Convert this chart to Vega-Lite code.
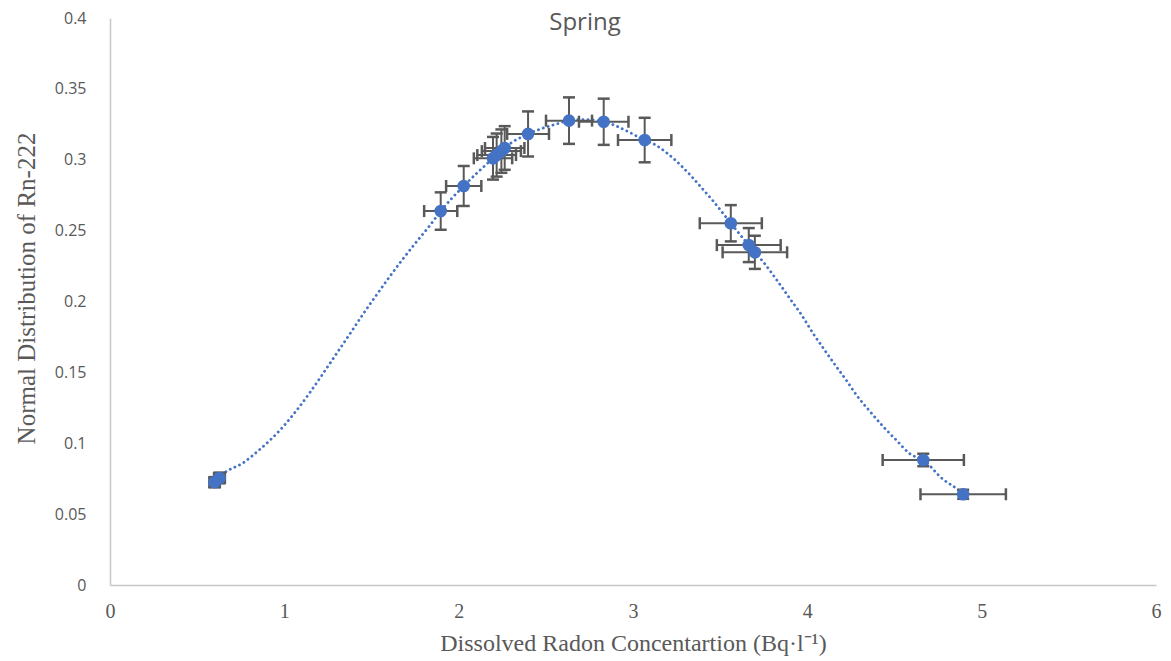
{
  "$schema": "https://vega.github.io/schema/vega-lite/v6.json",
  "width": 1046,
  "height": 567,
  "autosize": {"type": "none"},
  "padding": {"left": 110, "top": 18, "right": 15, "bottom": 76},
  "background": "white",
  "title": {
    "text": "Spring",
    "anchor": "middle",
    "frame": "group",
    "dx": -48,
    "offset": -49,
    "baseline": "bottom",
    "font": "Open Sans",
    "fontSize": 24,
    "fontWeight": "normal",
    "color": "#595959"
  },
  "config": {
    "view": {"stroke": null},
    "axis": {"grid": false, "ticks": false, "domainColor": "#c8c8c8", "domainWidth": 1.5}
  },
  "datasets": {
    "pts": [
      {"x": 0.600, "y": 0.0725, "xlo": 0.570, "xhi": 0.630, "ylo": 0.0689, "yhi": 0.0761},
      {"x": 0.628, "y": 0.0755, "xlo": 0.597, "xhi": 0.659, "ylo": 0.0717, "yhi": 0.0793},
      {"x": 1.897, "y": 0.2638, "xlo": 1.802, "xhi": 1.992, "ylo": 0.2506, "yhi": 0.2770},
      {"x": 2.029, "y": 0.2815, "xlo": 1.928, "xhi": 2.130, "ylo": 0.2674, "yhi": 0.2956},
      {"x": 2.197, "y": 0.3010, "xlo": 2.087, "xhi": 2.307, "ylo": 0.2860, "yhi": 0.3161},
      {"x": 2.218, "y": 0.3033, "xlo": 2.107, "xhi": 2.329, "ylo": 0.2881, "yhi": 0.3185},
      {"x": 2.245, "y": 0.3061, "xlo": 2.133, "xhi": 2.357, "ylo": 0.2908, "yhi": 0.3214},
      {"x": 2.264, "y": 0.3083, "xlo": 2.151, "xhi": 2.377, "ylo": 0.2929, "yhi": 0.3237},
      {"x": 2.398, "y": 0.3182, "xlo": 2.278, "xhi": 2.518, "ylo": 0.3023, "yhi": 0.3341},
      {"x": 2.633, "y": 0.3276, "xlo": 2.501, "xhi": 2.765, "ylo": 0.3112, "yhi": 0.3440},
      {"x": 2.832, "y": 0.3268, "xlo": 2.690, "xhi": 2.974, "ylo": 0.3105, "yhi": 0.3431},
      {"x": 3.067, "y": 0.3139, "xlo": 2.914, "xhi": 3.220, "ylo": 0.2982, "yhi": 0.3296},
      {"x": 3.561, "y": 0.2552, "xlo": 3.383, "xhi": 3.739, "ylo": 0.2424, "yhi": 0.2680},
      {"x": 3.664, "y": 0.2398, "xlo": 3.481, "xhi": 3.847, "ylo": 0.2278, "yhi": 0.2518},
      {"x": 3.699, "y": 0.2347, "xlo": 3.514, "xhi": 3.884, "ylo": 0.2230, "yhi": 0.2464},
      {"x": 4.665, "y": 0.0882, "xlo": 4.432, "xhi": 4.898, "ylo": 0.0838, "yhi": 0.0926},
      {"x": 4.894, "y": 0.0640, "xlo": 4.649, "xhi": 5.139, "ylo": 0.0608, "yhi": 0.0672}
    ],
    "curve": [
      {"x": 0.600, "y": 0.0725},
      {"x": 0.628, "y": 0.0755},
      {"x": 0.647, "y": 0.0780},
      {"x": 0.762, "y": 0.0860},
      {"x": 0.858, "y": 0.0955},
      {"x": 0.973, "y": 0.1090},
      {"x": 1.069, "y": 0.1230},
      {"x": 1.145, "y": 0.1355},
      {"x": 1.221, "y": 0.1490},
      {"x": 1.298, "y": 0.1630},
      {"x": 1.375, "y": 0.1770},
      {"x": 1.451, "y": 0.1910},
      {"x": 1.528, "y": 0.2045},
      {"x": 1.604, "y": 0.2175},
      {"x": 1.680, "y": 0.2300},
      {"x": 1.757, "y": 0.2420},
      {"x": 1.834, "y": 0.2535},
      {"x": 1.897, "y": 0.2638},
      {"x": 2.029, "y": 0.2815},
      {"x": 2.197, "y": 0.3010},
      {"x": 2.218, "y": 0.3033},
      {"x": 2.245, "y": 0.3061},
      {"x": 2.264, "y": 0.3083},
      {"x": 2.398, "y": 0.3182},
      {"x": 2.465, "y": 0.3215},
      {"x": 2.561, "y": 0.3252},
      {"x": 2.633, "y": 0.3276},
      {"x": 2.730, "y": 0.3284},
      {"x": 2.832, "y": 0.3268},
      {"x": 3.067, "y": 0.3139},
      {"x": 3.135, "y": 0.3100},
      {"x": 3.192, "y": 0.3050},
      {"x": 3.287, "y": 0.2945},
      {"x": 3.345, "y": 0.2870},
      {"x": 3.402, "y": 0.2790},
      {"x": 3.459, "y": 0.2710},
      {"x": 3.508, "y": 0.2635},
      {"x": 3.561, "y": 0.2552},
      {"x": 3.664, "y": 0.2398},
      {"x": 3.699, "y": 0.2347},
      {"x": 3.746, "y": 0.2281},
      {"x": 3.832, "y": 0.2139},
      {"x": 3.899, "y": 0.2022},
      {"x": 3.967, "y": 0.1905},
      {"x": 4.033, "y": 0.1775},
      {"x": 4.091, "y": 0.1672},
      {"x": 4.158, "y": 0.1555},
      {"x": 4.225, "y": 0.1442},
      {"x": 4.282, "y": 0.1340},
      {"x": 4.359, "y": 0.1225},
      {"x": 4.435, "y": 0.1118},
      {"x": 4.512, "y": 0.1020},
      {"x": 4.589, "y": 0.0925},
      {"x": 4.665, "y": 0.0882},
      {"x": 4.779, "y": 0.0745},
      {"x": 4.856, "y": 0.0680},
      {"x": 4.894, "y": 0.0640}
    ]
  },
  "encoding": {
    "x": {
      "field": "x",
      "type": "quantitative",
      "scale": {"domain": [0, 6], "nice": false},
      "axis": {
        "values": [0, 1, 2, 3, 4, 5, 6],
        "labelFlush": false,
        "title": "Dissolved Radon Concentartion (Bq·l⁻¹)",
        "titleFont": "Liberation Serif",
        "titleFontSize": 24,
        "titleFontWeight": "normal",
        "titleColor": "#595959",
        "titlePadding": 10,
        "labelFont": "Liberation Serif",
        "labelFontSize": 20,
        "labelColor": "#595959",
        "labelPadding": 16
      }
    },
    "y": {
      "field": "y",
      "type": "quantitative",
      "scale": {"domain": [0, 0.4], "nice": false},
      "axis": {
        "values": [0, 0.05, 0.1, 0.15, 0.2, 0.25, 0.3, 0.35, 0.4],
        "format": "~g",
        "title": "Normal Distribution of  Rn-222",
        "titleFont": "Liberation Serif",
        "titleFontSize": 25,
        "titleFontWeight": "normal",
        "titleColor": "#595959",
        "titlePadding": 15,
        "titleY": 270,
        "labelFont": "Open Sans",
        "labelFontSize": 16,
        "labelColor": "#595959",
        "labelPadding": 24
      }
    }
  },
  "layer": [
    {
      "data": {"name": "curve"},
      "mark": {"type": "line", "interpolate": "monotone", "color": "#4472C4", "strokeWidth": 2.8, "strokeDash": [0.1, 5], "strokeCap": "round"}
    },
    {
      "data": {"name": "pts"},
      "mark": {"type": "rule", "color": "#595959", "strokeWidth": 2},
      "encoding": {"x": {"field": "xlo", "type": "quantitative"}, "x2": {"field": "xhi"}}
    },
    {
      "data": {"name": "pts"},
      "mark": {"type": "rule", "color": "#595959", "strokeWidth": 2},
      "encoding": {"y": {"field": "ylo", "type": "quantitative"}, "y2": {"field": "yhi"}}
    },
    {
      "data": {"name": "pts"},
      "mark": {"type": "tick", "orient": "vertical", "color": "#595959", "size": 12, "thickness": 2.5, "opacity": 1},
      "encoding": {"x": {"field": "xlo", "type": "quantitative"}}
    },
    {
      "data": {"name": "pts"},
      "mark": {"type": "tick", "orient": "vertical", "color": "#595959", "size": 12, "thickness": 2.5, "opacity": 1},
      "encoding": {"x": {"field": "xhi", "type": "quantitative"}}
    },
    {
      "data": {"name": "pts"},
      "mark": {"type": "tick", "orient": "horizontal", "color": "#595959", "size": 12, "thickness": 2.5, "opacity": 1},
      "encoding": {"y": {"field": "ylo", "type": "quantitative"}}
    },
    {
      "data": {"name": "pts"},
      "mark": {"type": "tick", "orient": "horizontal", "color": "#595959", "size": 12, "thickness": 2.5, "opacity": 1},
      "encoding": {"y": {"field": "yhi", "type": "quantitative"}}
    },
    {
      "data": {"name": "pts"},
      "mark": {"type": "point", "shape": "circle", "filled": true, "color": "#4472C4", "size": 160, "opacity": 1}
    }
  ]
}
